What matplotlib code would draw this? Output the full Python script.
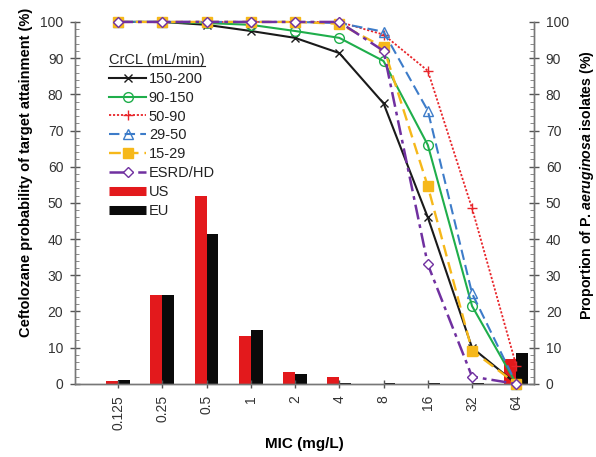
import matplotlib
matplotlib.use("Agg")
import matplotlib.pyplot as plt
from matplotlib.lines import Line2D
from matplotlib.ticker import MultipleLocator
import numpy as np

plt.rcParams['font.family'] = ['Liberation Sans', 'DejaVu Sans']
plt.rcParams['mathtext.fontset'] = 'custom'
plt.rcParams['mathtext.it'] = 'Liberation Sans:italic:bold'
plt.rcParams['mathtext.rm'] = 'Liberation Sans:bold'

mic_labels = ["0.125", "0.25", "0.5", "1", "2", "4", "8", "16", "32", "64"]

# Probability of target attainment (%) by creatinine clearance group
pta_150_200 = [100, 100, 99.2, 97.5, 95.6, 91.4, 77.5, 46.0, 10.0, 0.0]
pta_90_150 = [100, 100, 99.7, 99.2, 97.5, 95.6, 89.2, 66.0, 21.5, 0.0]
pta_50_90 = [100, 100, 100, 100, 100, 100, 96.5, 86.5, 48.5, 5.0]
pta_29_50 = [100, 100, 100, 100, 100, 99.7, 97.3, 75.5, 25.0, 0.0]
pta_15_29 = [100, 100, 100, 100, 100, 99.5, 93.0, 54.6, 9.2, 0.0]
pta_esrd_hd = [100, 100, 100, 100, 100, 100, 92.0, 33.0, 2.0, 0.0]

# MIC distribution of P. aeruginosa isolates (%)
us_pct = [0.7, 24.6, 51.8, 13.3, 3.4, 2.0, 0.1, 0.1, 0.0, 7.0]
eu_pct = [1.1, 24.6, 41.3, 14.8, 2.7, 0.3, 0.2, 0.2, 0.3, 8.6]

x = np.arange(len(mic_labels))

fig = plt.figure(figsize=(5.96, 4.57), dpi=100)
ax = fig.add_axes([0.126, 0.160, 0.770, 0.792])
ax2 = ax.twinx()
ax.set_zorder(ax2.get_zorder() + 1)
ax.patch.set_visible(False)

US_RED = "#e3191c"
EU_BLACK = "#0a0a0a"
bw = 0.27
ax2.bar(x - bw / 2, us_pct, width=bw, color=US_RED, zorder=2)
ax2.bar(x + bw / 2, eu_pct, width=bw, color=EU_BLACK, zorder=2)

series = [
    ("150-200", pta_150_200, dict(color="#1a1a1a", ls="-", marker="x", mfc="none", ms=6, lw=1.5)),
    ("90-150", pta_90_150, dict(color="#1fae4b", ls="-", marker="o", mfc="none", ms=7, lw=1.5)),
    ("50-90", pta_50_90, dict(color="#e8252a", ls=(0, (1.2, 1)), marker="+", mfc="none", ms=7, lw=1.3)),
    ("29-50", pta_29_50, dict(color="#3d7cc9", ls=(0, (5, 2.5)), marker="^", mfc="none", ms=7, lw=1.5)),
    ("15-29", pta_15_29, dict(color="#f6b81a", ls=(0, (5, 2.5)), marker="s", mfc="#f6b81a", ms=7, lw=1.7)),
    ("ESRD/HD", pta_esrd_hd, dict(color="#7030a0", ls=(0, (6, 2, 1.5, 2)), marker="D", mfc="white", ms=5.5, lw=1.8)),
]
handles = []
for label, vals, st in series:
    h, = ax.plot(x, vals, label=label, clip_on=False, zorder=3, **st)
    handles.append(h)
handles.append(Line2D([], [], color=US_RED, lw=6.5, solid_capstyle='butt', label="US"))
handles.append(Line2D([], [], color=EU_BLACK, lw=6.5, solid_capstyle='butt', label="EU"))

for a in (ax, ax2):
    a.set_ylim(0, 100)
    a.set_xlim(-0.97, 9.4)
    a.yaxis.set_major_locator(MultipleLocator(10))
    a.yaxis.set_minor_locator(MultipleLocator(2))
    a.spines['top'].set_visible(False)
    for s in ('left', 'right', 'bottom'):
        a.spines[s].set_color("#777777")
        a.spines[s].set_linewidth(1.0)
    a.tick_params(axis='y', which='major', direction='inout', length=7, width=1,
                  color="#555555", labelsize=10, labelcolor="#333333", pad=5)
    a.tick_params(axis='y', which='minor', direction='in', length=3, width=0.6, color="#777777")

ax.set_xticks(x)
ax.set_xticklabels(mic_labels, rotation=90)
ax.tick_params(axis='x', direction='inout', length=6, width=1, color="#555555",
               labelsize=10, labelcolor="#333333", pad=5)
ax2.tick_params(axis='x', length=0)

ax.set_xlabel("MIC (mg/L)", fontsize=11, fontweight='bold', va='top')
ax.xaxis.set_label_coords(0.5, -0.148)
ax.set_ylabel("Ceftolozane probability of target attainment (%)", fontsize=10.5,
              fontweight='bold')
ax.yaxis.set_label_coords(-0.092, 0.585)
ax2.set_ylabel(r"Proportion of P. $\mathit{aeruginosa}$ isolates (%)", fontsize=10.2,
               fontweight='bold')
ax2.yaxis.set_label_coords(1.096, 0.55)

leg = ax.legend(handles=handles, title="CrCL (mL/min)", loc="upper left",
                bbox_to_anchor=(0.062, 0.93), frameon=False, fontsize=10.5,
                title_fontsize=10.5, handlelength=2.5, handletextpad=0.2,
                labelspacing=0.33, borderaxespad=0)
leg._legend_box.align = "left"
for t in leg.get_texts():
    t.set_color("#222222")
leg.get_title().set_color("#222222")

# underline the legend title
fig.canvas.draw()
tb = leg.get_title().get_window_extent(fig.canvas.get_renderer())
inv = fig.transFigure.inverted()
(x0, y0), (x1, _) = inv.transform([(tb.x0, tb.y0), (tb.x1, tb.y0)])
fig.add_artist(plt.Line2D([x0, x1], [y0 + 0.002, y0 + 0.002], color="#222222", lw=0.8,
                          transform=fig.transFigure))

fig.savefig("out.png", dpi=100)
